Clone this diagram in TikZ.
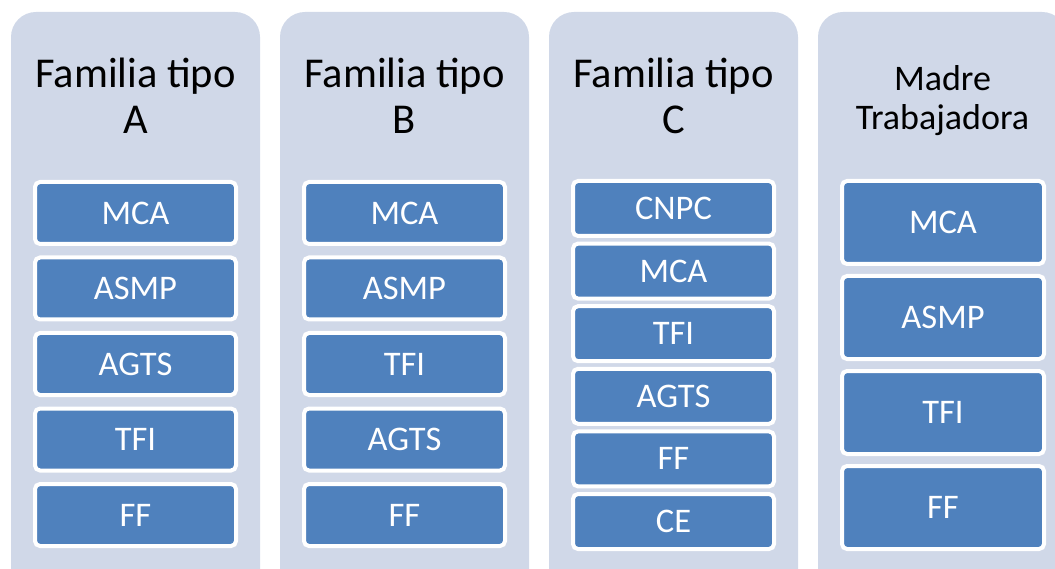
\documentclass[tikz,border=0pt]{standalone}
\usepackage{fontspec}
\setmainfont{Carlito}
\usetikzlibrary{positioning}
\definecolor{panelgray}{HTML}{D0D8E8}
\definecolor{boxblue}{HTML}{4F81BD}
\begin{document}
\begin{tikzpicture}[x=1pt, y=-1pt,
    panel/.style = {fill=panelgray, rounded corners=25pt, minimum width=249pt, minimum height=590pt, anchor=north, inner sep=0pt, outer sep=0pt},
    heading/.style = {align=center, anchor=north, inner sep=0pt, font=\fontsize{42.5}{46}\selectfont},
    item/.style = {draw=white, line width=4pt, fill=boxblue, text=white, rounded corners=5pt, minimum width=201pt, inner sep=0pt, outer sep=0pt, font=\fontsize{34.5}{40}\selectfont},
    itemA/.style = {item, minimum height=62pt},
    itemC/.style = {item, minimum height=55pt},
    itemD/.style = {item, minimum width=202pt, minimum height=83pt}]
    \useasboundingbox (0,0) rectangle (1055,569);
    % panels
    \node[panel] (colA) at (135.5,12) {};
    \node[panel] (colB) at (404.5,12) {};
    \node[panel] (colC) at (673.5,12) {};
    \node[panel] (colD) at (942.5,12) {};
    % headings
    \node[heading] (headA) at (135.5,58) {Familia tipo\\A};
    \node[heading] (headB) at (404.5,58) {Familia tipo\\B};
    \node[heading] (headC) at (673.5,58) {Familia tipo\\C};
    \node[heading, font=\fontsize{36}{39}\selectfont] (headD) at (942.5,65) {Madre\\Trabajadora};
    % familia tipo A
    \node[itemA] (a1) at (135.5,213) {MCA};
    \node[itemA] (a2) [below=13.5pt of a1] {ASMP};
    \node[itemA] (a3) [below=13.5pt of a2] {AGTS};
    \node[itemA] (a4) [below=13.5pt of a3] {TFI};
    \node[itemA] (a5) [below=13.5pt of a4] {FF};
    % familia tipo B
    \node[itemA] (b1) at (404.5,213) {MCA};
    \node[itemA] (b2) [below=13.5pt of b1] {ASMP};
    \node[itemA] (b3) [below=13.5pt of b2] {TFI};
    \node[itemA] (b4) [below=13.5pt of b3] {AGTS};
    \node[itemA] (b5) [below=13.5pt of b4] {FF};
    % familia tipo C
    \node[itemC] (c1) at (673.5,208.5) {CNPC};
    \node[itemC] (c2) [below=7.6pt of c1] {MCA};
    \node[itemC] (c3) [below=7.6pt of c2] {TFI};
    \node[itemC] (c4) [below=7.6pt of c3] {AGTS};
    \node[itemC] (c5) [below=7.6pt of c4] {FF};
    \node[itemC] (c6) [below=7.6pt of c5] {CE};
    % madre trabajadora
    \node[itemD] (d1) at (943,222.5) {MCA};
    \node[itemD] (d2) [below=12pt of d1] {ASMP};
    \node[itemD] (d3) [below=12pt of d2] {TFI};
    \node[itemD] (d4) [below=12pt of d3] {FF};
\end{tikzpicture}
\end{document}
